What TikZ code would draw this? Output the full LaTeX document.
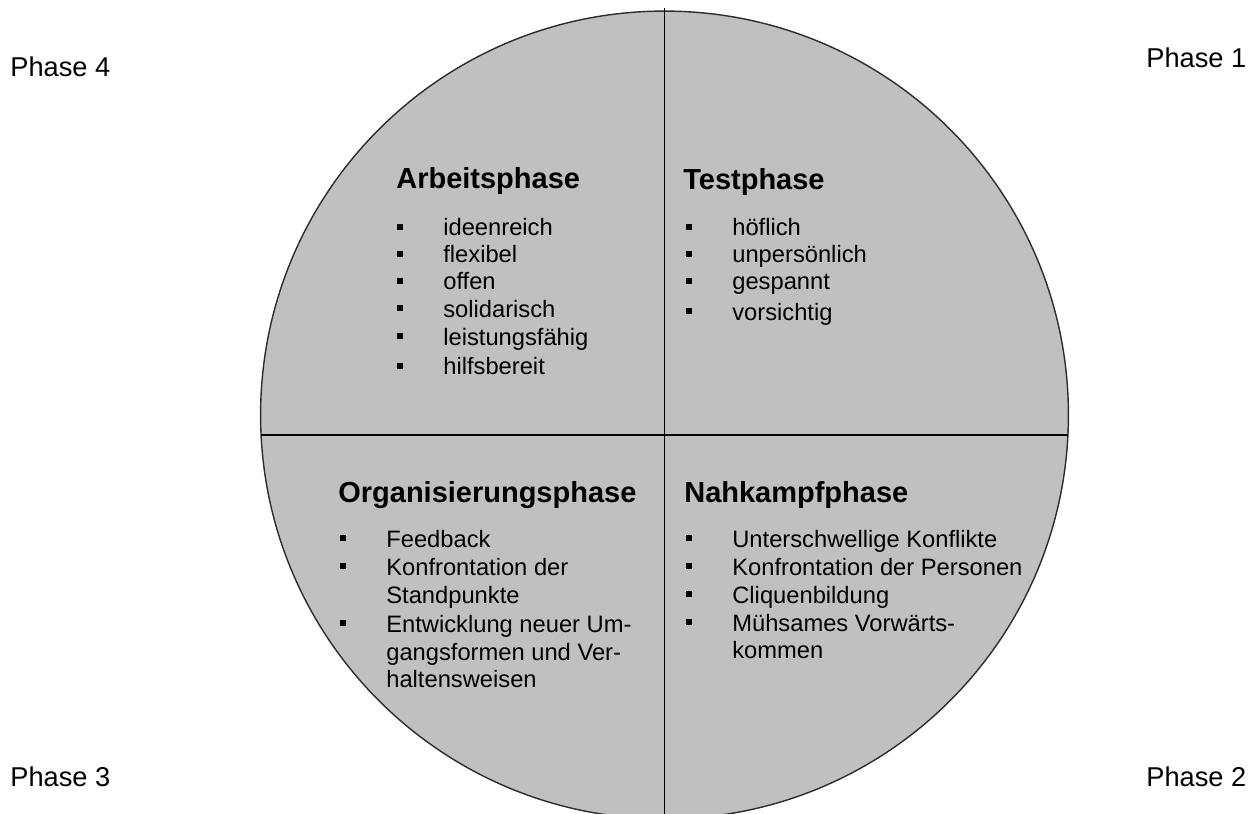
\documentclass[tikz,border=0pt]{standalone}
\usepackage{fontspec}
\setmainfont{Liberation Sans}
\definecolor{circlegray}{RGB}{192,192,192}
\definecolor{rimgray}{RGB}{45,45,45}
\begin{document}
\begin{tikzpicture}[x=0.02cm,y=-0.02cm,
	title/.style={font=\fontsize{16.5}{20}\selectfont\bfseries,anchor=base west,inner sep=0pt},
	item/.style={font=\fontsize{13.5}{16}\selectfont,anchor=base west,inner sep=0pt},
	phase/.style={font=\fontsize{15.5}{18}\selectfont,anchor=base west,inner sep=0pt},
	bullet/.style={fill=black}]
	\useasboundingbox (0,0) rectangle (1258,814);
	\clip (0,0) rectangle (1258,814);
	% circle and axes
	\draw[rimgray, line width=0.8pt, fill=circlegray] (664.5,415) circle[radius=8.08cm];
	\coordinate (west) at (261,435);
	\coordinate (east) at (1068,435);
	\coordinate (top) at (664.5,8);
	\coordinate (bottom) at (664.5,814);
	\draw[line width=1.1pt] (west) -- (east);
	\draw[line width=1.1pt] (top) -- (bottom);
	% phase labels
	\node[phase] (phase4) at (10,77) {Phase 4};
	\node[phase] (phase1) at (1146,68) {Phase 1};
	\node[phase] (phase3) at (10,786) {Phase 3};
	\node[phase] (phase2) at (1146,786) {Phase 2};
	% Arbeitsphase
	\node[title] (arbeit) at (396,189) {Arbeitsphase};
	\foreach \y/\t [count=\i] in {236/ideenreich,263/flexibel,290/offen,317/solidarisch,345/leistungsfähig,375/hilfsbereit}
	{
		\fill[bullet] (397,\y-12) rectangle +(6,6);
		\node[item] (arbeit\i) at (443,\y) {\t};
	}
	% Testphase
	\node[title] (test) at (683,190) {Testphase};
	\foreach \y/\t [count=\i] in {236/höflich,263/unpersönlich,290/gespannt,320/vorsichtig}
	{
		\fill[bullet] (686,\y-12) rectangle +(6,6);
		\node[item] (test\i) at (732,\y) {\t};
	}
	% Organisierungsphase
	\node[title] (orga) at (338,502) {Organisierungsphase};
	\foreach \y/\t [count=\i] in {547/Feedback,575/Konfrontation der,632/Entwicklung neuer Um-}
	{
		\fill[bullet] (340,\y-12) rectangle +(6,6);
		\node[item] (orga\i) at (386,\y) {\t};
	}
	\node[item] (orga4) at (386,603) {Standpunkte};
	\node[item] (orga5) at (386,660) {gangsformen und Ver-};
	\node[item] (orga6) at (386,687) {haltensweisen};
	% Nahkampfphase
	\node[title] (nahkampf) at (684,502) {Nahkampfphase};
	\foreach \y/\t [count=\i] in {547/Unterschwellige Konflikte,575/Konfrontation der Personen,603/Cliquenbildung,631/Mühsames Vorwärts-}
	{
		\fill[bullet] (686,\y-12) rectangle +(6,6);
		\node[item] (nahkampf\i) at (732,\y) {\t};
	}
	\node[item] (nahkampf5) at (732,658) {kommen};
\end{tikzpicture}
\end{document}
